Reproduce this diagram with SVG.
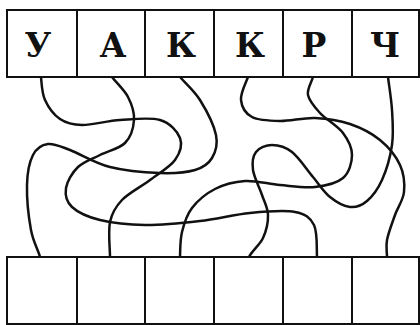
<svg xmlns="http://www.w3.org/2000/svg" width="420" height="325" viewBox="0 0 420 325">
<style>
.box{fill:#fff;stroke:#111;stroke-width:2}
.lt{font-family:"DejaVu Serif","Liberation Serif",serif;font-weight:bold;font-size:33px;fill:#111;text-anchor:middle}
.c{fill:none;stroke:#111;stroke-width:2.5;stroke-linecap:round;stroke-linejoin:round}
</style>
<rect width="420" height="325" fill="#fff"/>
<g id="connectors">
<path class="c" d="M41,77 C41.7,83.7 41.8,93 45,100 C48.2,107 53.8,114.8 60,119 C66.2,123.2 72,124.8 82,125 C92,125.2 107,120.8 120,120 C133,119.2 150,117 160,120 C170,123 177.5,131.3 180,138 C182.5,144.7 180,153 175,160 C170,167 158.8,173.3 150,180 C141.2,186.7 128.7,193 122,200 C115.3,207 112,212.5 110,222 C108,231.5 110,248 110,257"/>
<path class="c" d="M180,77 C185.8,83.7 194,90.3 200,100 C206,109.7 214,125.3 216,135 C218,144.7 215.5,152.2 212,158 C208.5,163.8 203.7,167.5 195,170 C186.3,172.5 174.2,173.5 160,173 C145.8,172.5 125,170.8 110,167 C95,163.2 80.3,153.8 70,150 C59.7,146.2 54.2,143.2 48,144 C41.8,144.8 36.5,148.2 33,155 C29.5,161.8 27.3,172.5 27,185 C26.7,197.5 28.8,218 31,230 C33.2,242 38,249.5 40,257"/>
<path class="c" d="M112,77 C116.7,83.2 124.3,89.8 128,97 C131.7,104.2 134.5,112.3 134,120 C133.5,127.7 130.7,137.2 125,143 C119.3,148.8 107.8,151 100,155 C92.2,159 83.7,161.5 78,167 C72.3,172.5 67,181.3 66,188 C65,194.7 66.3,201.7 72,207 C77.7,212.3 87.8,217 100,220 C112.2,223 128.3,224.8 145,225 C161.7,225.2 182.5,223 200,221 C217.5,219 234.2,214.5 250,213 C265.8,211.5 284.3,210 295,212 C305.7,214 310.3,217.5 314,225 C317.7,232.5 316.5,248.7 317,257"/>
<path class="c" d="M313,77 C311.3,82.8 306.8,89 308,95 C309.2,101 314.2,106.7 320,113 C325.8,119.3 337.7,126 343,133 C348.3,140 352,147.5 352,155 C352,162.5 349.2,172.7 343,178 C336.8,183.3 325.5,185.8 315,187 C304.5,188.2 291.7,186 280,185 C268.3,184 255.8,180.3 245,181 C234.2,181.7 223.8,184.5 215,189 C206.2,193.5 197.5,200.8 192,208 C186.5,215.2 184,223.8 182,232 C180,240.2 180.3,249.8 180,257"/>
<path class="c" d="M388,77 C389,85.3 391.3,98.7 392,110 C392.7,121.3 393.7,133.3 392,145 C390.3,156.7 386.2,170.7 382,180 C377.8,189.3 372.3,196.5 367,201 C361.7,205.5 356.2,207.7 350,207 C343.8,206.3 336.2,202 330,197 C323.8,192 319.3,184.5 313,177 C306.7,169.5 298.8,157.3 292,152 C285.2,146.7 278,145 272,145 C266,145 259.2,147.8 256,152 C252.8,156.2 252,162.8 253,170 C254,177.2 259.5,187.5 262,195 C264.5,202.5 267.8,207.8 268,215 C268.2,222.2 266.2,231 263,238 C259.8,245 251.8,250.8 249,257"/>
<path class="c" d="M248,77 C245.5,83.7 240.3,93.3 241,100 C241.7,106.7 245.5,113.5 252,117 C258.5,120.5 269.5,120.8 280,121 C290.5,121.2 303.3,117.5 315,118 C326.7,118.5 339.2,120.3 350,124 C360.8,127.7 371.7,133.2 380,140 C388.3,146.8 396,156.3 400,165 C404,173.7 404.8,183.7 404,192 C403.2,200.3 397.8,207 395,215 C392.2,223 388.3,233 387,240 C385.7,247 387,251.2 387,257"/>
</g>
<g id="top-1"><rect class="box" x="7" y="10" width="70" height="67"/><text class="lt" x="38" y="57">У</text></g>
<g id="top-2"><rect class="box" x="77" y="10" width="68" height="67"/><text class="lt" x="113" y="57">А</text></g>
<g id="top-3"><rect class="box" x="145" y="10" width="69" height="67"/><text class="lt" x="181" y="57">К</text></g>
<g id="top-4"><rect class="box" x="214" y="10" width="69" height="67"/><text class="lt" x="250" y="57">К</text></g>
<g id="top-5"><rect class="box" x="283" y="10" width="69" height="67"/><text class="lt" x="314" y="57">Р</text></g>
<g id="top-6"><rect class="box" x="352" y="10" width="67" height="67"/><text class="lt" x="385" y="57">Ч</text></g>
<g id="bottom-1"><rect class="box" x="7" y="257" width="70" height="67"/></g>
<g id="bottom-2"><rect class="box" x="77" y="257" width="68" height="67"/></g>
<g id="bottom-3"><rect class="box" x="145" y="257" width="69" height="67"/></g>
<g id="bottom-4"><rect class="box" x="214" y="257" width="69" height="67"/></g>
<g id="bottom-5"><rect class="box" x="283" y="257" width="69" height="67"/></g>
<g id="bottom-6"><rect class="box" x="352" y="257" width="67" height="67"/></g>
</svg>
